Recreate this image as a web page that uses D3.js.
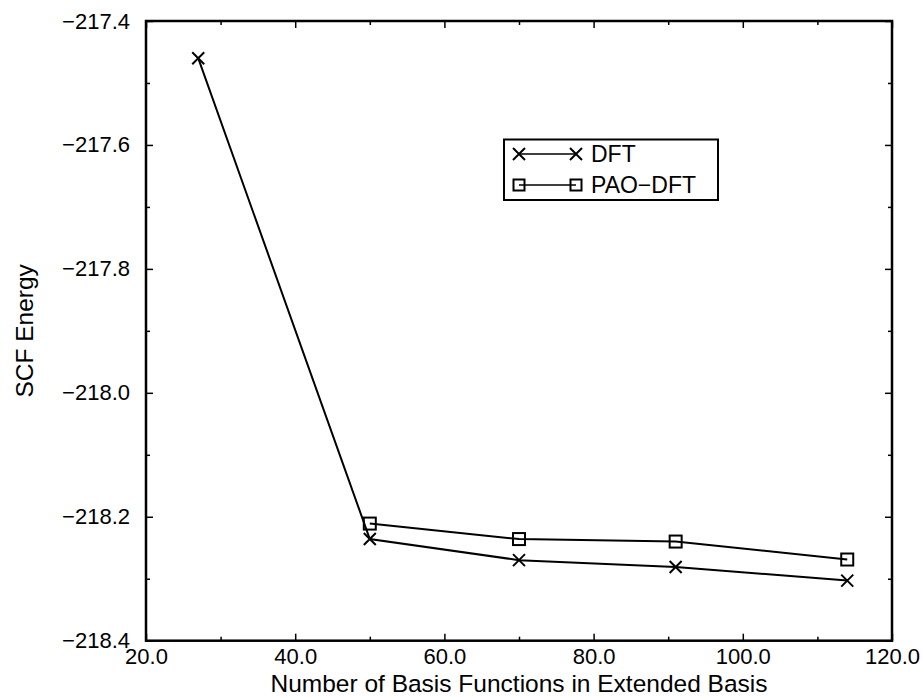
<!DOCTYPE html>
<html>
<head>
<meta charset="utf-8">
<script src="https://cdn.jsdelivr.net/npm/d3@7"></script>
<style>
  body { margin: 0; background: #fff; }
  svg { display: block; }
  .axis text { font-family: "Liberation Sans", Arial, sans-serif; font-size: 22px; fill: #000; }
  .axis path { display: none; }
  .axis line { stroke: #000; stroke-width: 1.5; }
</style>
</head>
<body>
<div id="chart"></div>
<script>
// values
let basisDFT = [27, 50, 70, 91, 114];
let energyDFT = [-217.460, -218.236, -218.270, -218.281, -218.303];
let basisPAO = [50, 70, 91, 114];
let energyPAO = [-218.211, -218.236, -218.240, -218.269];
let xTicks = [20, 40, 60, 80, 100, 120];
let xMinor = [30, 50, 70, 90, 110];
let yTicks = [-218.4, -218.2, -218.0, -217.8, -217.6, -217.4];
let yMinor = [-218.3, -218.1, -217.9, -217.7, -217.5];
let seriesNames = ["DFT", "PAO\u2212DFT"];

let width = 922, height = 698;
let margin = { "top": 21, "bottom": 57.3, "left": 146, "right": 30 };

let svg = d3.select('#chart').append('svg').attr('width', width).attr('height', height);

let xScale = d3.scaleLinear()
    .domain([20, 120])
    .range([margin.left, width - margin.right]);
let yScale = d3.scaleLinear()
    .domain([-218.4, -217.4])
    .range([height - margin.bottom, margin.top]);

let fmt = d3.format('.1f');
let major = 7, minor = 4;

// bottom axis with labels
svg.append('g').attr('class', 'axis')
    .attr('transform', 'translate(0,' + yScale.range()[0] + ')')
    .call(d3.axisBottom(xScale).tickValues(xTicks).tickFormat(fmt).tickSize(-major).tickPadding(8));
svg.append('g').attr('class', 'axis')
    .attr('transform', 'translate(0,' + yScale.range()[0] + ')')
    .call(d3.axisBottom(xScale).tickValues(xMinor).tickFormat('').tickSize(-minor));
// top mirrored ticks
svg.append('g').attr('class', 'axis')
    .attr('transform', 'translate(0,' + yScale.range()[1] + ')')
    .call(d3.axisTop(xScale).tickValues(xTicks).tickFormat('').tickSize(-major));
svg.append('g').attr('class', 'axis')
    .attr('transform', 'translate(0,' + yScale.range()[1] + ')')
    .call(d3.axisTop(xScale).tickValues(xMinor).tickFormat('').tickSize(-minor));

// left axis with labels
svg.append('g').attr('class', 'axis')
    .attr('transform', 'translate(' + xScale.range()[0] + ',0)')
    .call(d3.axisLeft(yScale).tickValues(yTicks).tickFormat(fmt).tickSize(-major).tickPadding(16));
svg.append('g').attr('class', 'axis')
    .attr('transform', 'translate(' + xScale.range()[0] + ',0)')
    .call(d3.axisLeft(yScale).tickValues(yMinor).tickFormat('').tickSize(-minor));
// right mirrored ticks
svg.append('g').attr('class', 'axis')
    .attr('transform', 'translate(' + xScale.range()[1] + ',0)')
    .call(d3.axisRight(yScale).tickValues(yTicks).tickFormat('').tickSize(-major));
svg.append('g').attr('class', 'axis')
    .attr('transform', 'translate(' + xScale.range()[1] + ',0)')
    .call(d3.axisRight(yScale).tickValues(yMinor).tickFormat('').tickSize(-minor));

// frame
svg.append('rect')
    .attr('x', xScale.range()[0])
    .attr('y', yScale.range()[1])
    .attr('width', xScale.range()[1] - xScale.range()[0])
    .attr('height', yScale.range()[0] - yScale.range()[1])
    .attr('fill', 'none')
    .attr('stroke', '#000')
    .attr('stroke-width', 2.5);

// axis titles
svg.append('text')
    .attr('x', (xScale.range()[0] + xScale.range()[1]) / 2)
    .attr('y', 692)
    .attr('text-anchor', 'middle')
    .style('font-family', '"Liberation Sans", Arial, sans-serif')
    .style('font-size', '24.5px')
    .text('Number of Basis Functions in Extended Basis');
svg.append('text')
    .attr('transform', 'translate(33,' + (yScale.range()[0] + yScale.range()[1]) / 2 + ') rotate(-90)')
    .attr('text-anchor', 'middle')
    .style('font-family', '"Liberation Sans", Arial, sans-serif')
    .style('font-size', '24.5px')
    .text('SCF Energy');

let line = d3.line()
    .x(function(d){ return xScale(d[0]); })
    .y(function(d){ return yScale(d[1]); });

let dftData = basisDFT.map(function(b, i){ return [b, energyDFT[i]]; });
let paoData = basisPAO.map(function(b, i){ return [b, energyPAO[i]]; });

function drawCross(g, cx, cy, r) {
    g.append('path')
        .attr('d', 'M' + (cx - r) + ',' + (cy - r) + 'L' + (cx + r) + ',' + (cy + r) +
                   'M' + (cx - r) + ',' + (cy + r) + 'L' + (cx + r) + ',' + (cy - r))
        .attr('stroke', '#000')
        .attr('stroke-width', 2)
        .attr('fill', 'none');
}
function drawSquare(g, cx, cy, r) {
    g.append('rect')
        .attr('x', cx - r).attr('y', cy - r)
        .attr('width', 2 * r).attr('height', 2 * r)
        .attr('stroke', '#000')
        .attr('stroke-width', 2)
        .attr('fill', 'none');
}

// lines
svg.append('path')
    .attr('d', line(dftData))
    .attr('stroke', '#000').attr('stroke-width', 2).attr('fill', 'none');
svg.append('path')
    .attr('d', line(paoData))
    .attr('stroke', '#000').attr('stroke-width', 2).attr('fill', 'none');

// markers
let marks = svg.append('g');
dftData.forEach(function(d){ drawCross(marks, xScale(d[0]), yScale(d[1]), 6); });
paoData.forEach(function(d){ drawSquare(marks, xScale(d[0]), yScale(d[1]), 6); });

// legend
let legend = svg.append('g');
legend.append('rect')
    .attr('x', 504).attr('y', 139.5)
    .attr('width', 214).attr('height', 60.5)
    .attr('fill', '#fff')
    .attr('stroke', '#000')
    .attr('stroke-width', 2);
let rows = [154, 185];
rows.forEach(function(y, i) {
    legend.append('line')
        .attr('x1', 519).attr('x2', 576)
        .attr('y1', y).attr('y2', y)
        .attr('stroke', '#000').attr('stroke-width', 1.5);
    if (i === 0) {
        drawCross(legend, 519, y, 6);
        drawCross(legend, 576, y, 6);
    } else {
        drawSquare(legend, 519, y, 5.5);
        drawSquare(legend, 576, y, 5.5);
    }
    legend.append('text')
        .attr('x', 591).attr('y', y)
        .attr('dy', '0.36em')
        .style('font-family', '"Liberation Sans", Arial, sans-serif')
        .style('font-size', '23px')
        .text(seriesNames[i]);
});
</script>
</body>
</html>
